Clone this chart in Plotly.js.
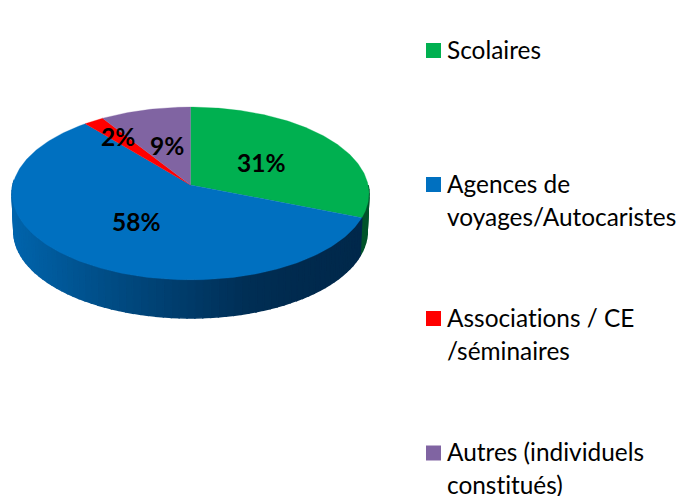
<!DOCTYPE html>
<html>
<head>
<meta charset="utf-8">
<script src="https://cdn.plot.ly/plotly-3.0.1.min.js"></script>
<style>html,body{margin:0;padding:0;background:#fff}#chart{width:682px;height:496px}text{font-variant-ligatures:none;font-feature-settings:"liga" 0}</style>
</head>
<body>
<div id="chart"></div>
<script>
// ---- data ----
const categories = ['Scolaires', 'Agences de voyages/Autocaristes', 'Associations / CE /séminaires', 'Autres (individuels constitués)'];
const values = [31, 58, 2, 9];
const colors = ['#00B050', '#0070C0', '#FF0000', '#8064A2'];
const labelTexts = ['31%', '58%', '2%', '9%'];
const legendLines = [['Scolaires'], ['Agences de', 'voyages/Autocaristes'], ['Associations / CE', '/séminaires'], ['Autres (individuels', 'constitués)']];

// ---- layout (pixel coordinates of the page) ----
const apex = {x: 190.5, y: 185};
const scaleX = 177.6, scaleY = 85.6, persp = 0.0983;
const wallDepth = 38, wallShrink = 0.99;
const labelX = [261, 136.5, 118, 167], labelY = [162.5, 221.5, 136.5, 145.5];
const swatchX = 433.5, swatchY = [50.5, 184.5, 318.5, 453];
const legendX = 446, lineGap = 33, legendNudge = -1.5;
const font = 'Lato, Carlito, Calibri, sans-serif';

// project an angle on the disc (fraction of a turn, clockwise from the top)
function rim(frac, shrink = 1, dy = 0) {
  const t = frac * 2 * Math.PI, u = Math.sin(t), v = -Math.cos(t), d = 1 - persp * v;
  return [apex.x + shrink * scaleX * u / d, apex.y + dy + scaleY * v / d];
}
const total = values.reduce((a, b) => a + b, 0);
const bounds = [0];
values.forEach(v => bounds.push(bounds[bounds.length - 1] + v / total));

const traces = [];

// side wall shading: [x, r, g, b]
const blueStops = [[12, 0, 100, 172], [60, 0, 88, 152], [110, 0, 76, 132], [190, 0, 58, 104], [250, 0, 46, 84], [300, 0, 42, 78], [370, 0, 40, 74]];
function shade(x, stops) {
  for (let i = 1; i < stops.length; i++) {
    if (x <= stops[i][0]) {
      const a = stops[i - 1], b = stops[i], k = (x - a[0]) / (b[0] - a[0]);
      return 'rgb(' + [1, 2, 3].map(c => Math.round(a[c] + k * (b[c] - a[c]))).join(',') + ')';
    }
  }
  const l = stops[stops.length - 1];
  return 'rgb(' + l[1] + ',' + l[2] + ',' + l[3] + ')';
}
function wallBand(f0, f1, color) {
  const a = rim(f0), b = rim(f1), c = rim(f1, wallShrink, wallDepth), d = rim(f0, wallShrink, wallDepth);
  traces.push({type: 'scatter', mode: 'lines', x: [a[0], b[0], c[0], d[0], a[0]], y: [a[1], b[1], c[1], d[1], a[1]],
    fill: 'toself', fillcolor: color, line: {color: color, width: 1.5}, hoverinfo: 'skip', showlegend: false});
}
// green wall visible right of the tangent
const greenSteps = 8;
for (let i = 0; i < greenSteps; i++) {
  const f0 = 0.25 + (bounds[1] - 0.25) * i / greenSteps, f1 = 0.25 + (bounds[1] - 0.25) * (i + 1) / greenSteps;
  wallBand(f0, f1, '#00532A');
}
// blue wall, front of the cylinder
const blueSteps = 70, blueEnd = 0.76;
for (let i = 0; i < blueSteps; i++) {
  const f0 = bounds[1] + (blueEnd - bounds[1]) * i / blueSteps, f1 = bounds[1] + (blueEnd - bounds[1]) * (i + 1) / blueSteps;
  wallBand(f0, f1, shade((rim(f0)[0] + rim(f1)[0]) / 2, blueStops));
}

// top face: one filled sector per category
values.forEach((v, i) => {
  const n = Math.max(6, Math.round(v * 4)), xs = [apex.x], ys = [apex.y];
  for (let k = 0; k <= n; k++) {
    const p = rim(bounds[i] + (bounds[i + 1] - bounds[i]) * k / n);
    xs.push(p[0]); ys.push(p[1]);
  }
  xs.push(apex.x); ys.push(apex.y);
  traces.push({type: 'scatter', mode: 'lines', x: xs, y: ys, fill: 'toself', fillcolor: colors[i],
    line: {color: colors[i], width: 0.3}, name: categories[i], hoverinfo: 'name', showlegend: false});
});

// legend swatches
categories.forEach((c, i) => {
  traces.push({type: 'scatter', mode: 'markers', x: [swatchX], y: [swatchY[i]],
    marker: {symbol: 'square', size: 15, color: colors[i]}, name: c, hoverinfo: 'name', showlegend: false});
});

const annotations = [];
labelTexts.forEach((t, i) => annotations.push({x: labelX[i], y: labelY[i], text: '<b>' + t + '</b>', showarrow: false,
  xanchor: 'center', yanchor: 'middle', font: {family: font, size: 24.5, color: '#000'}}));
legendLines.forEach((lines, i) => lines.forEach((t, j) => annotations.push({x: legendX, y: swatchY[i] + legendNudge + j * lineGap, text: t,
  showarrow: false, xanchor: 'left', yanchor: 'middle', font: {family: font, size: 24.4, color: '#000'}, borderpad: 0})));

const hidden = {visible: false, fixedrange: true, autorange: false};
Plotly.newPlot('chart', traces, {
  width: 682, height: 496, margin: {l: 0, r: 0, t: 0, b: 0}, paper_bgcolor: '#fff', plot_bgcolor: '#fff', showlegend: false,
  xaxis: Object.assign({range: [0, 682]}, hidden), yaxis: Object.assign({range: [496, 0]}, hidden), annotations: annotations
}, {displayModeBar: false, staticPlot: true});
</script>
</body>
</html>
